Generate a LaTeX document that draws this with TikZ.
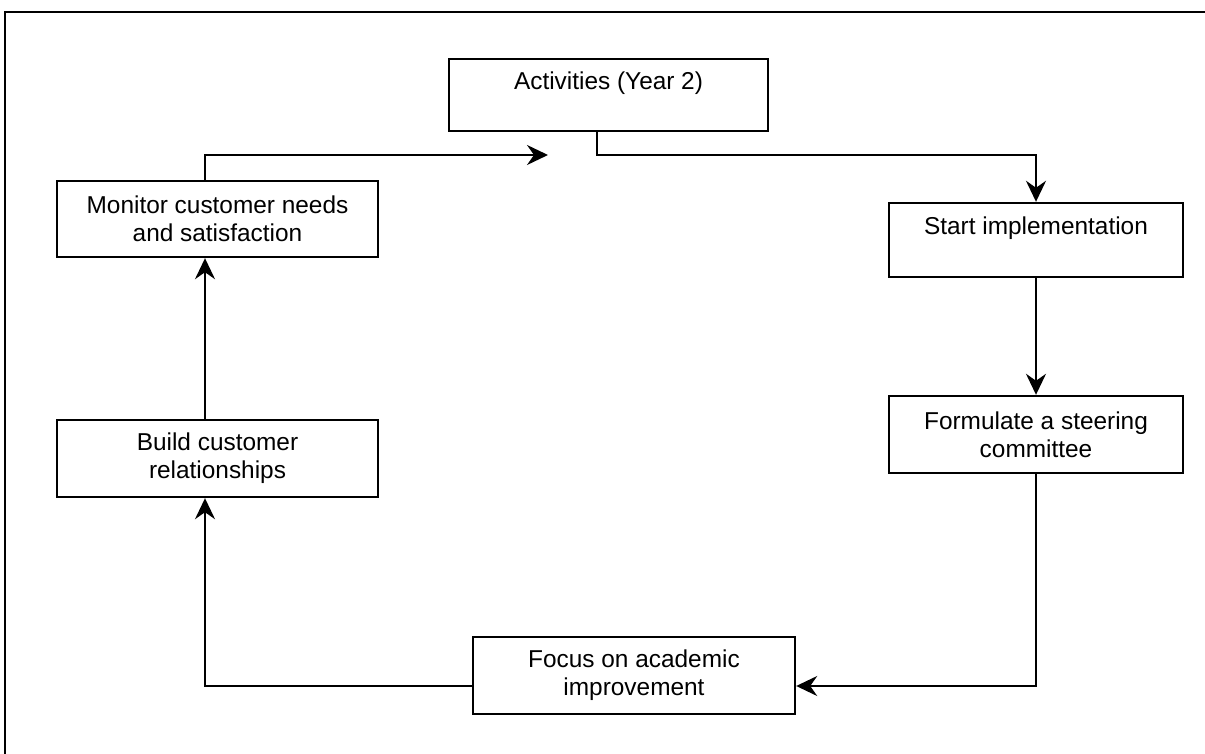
\documentclass[tikz,border=0pt]{standalone}
\usepackage{fontspec}
\setmainfont{Liberation Sans}
\usetikzlibrary{arrows.meta}
\tikzset{
  stage/.style={rectangle,draw=black,line width=1.2pt,fill=white,align=center,inner sep=0pt,
    font=\fontsize{12.2}{14}\selectfont},
  flow/.style={-{Stealth[length=10.5pt,width=10pt,inset=3.5pt]},line width=1pt,black},
  frame/.style={line width=1.2pt,black},
}
\newcommand{\Turns}{%
  \coordinate (tA) at (597,155);  \coordinate (tip) at (548,155);
  \coordinate (tB) at (205,686);
}
\begin{document}
\begin{tikzpicture}[x=0.5pt,y=-0.5pt]
  \useasboundingbox (0,0) rectangle (1205,754);
  \fill[white] (0,0) rectangle (1205,754);
  \draw[frame] (5,754) -- (5,12) -- (1205,12);
  \Turns
  % boxes, clockwise from the top
  \node[stage,minimum width=159.5pt,minimum height=36pt] (act) at (608.5,95) {Activities (Year 2)\\\mbox{}};
  \node[stage,minimum width=147pt,minimum height=37pt] (start) at (1036,240) {Start implementation\\\mbox{}};
  \node[stage,minimum width=147pt,minimum height=38.5pt] (form) at (1036,434.5) {Formulate a steering\\committee};
  \node[stage,minimum width=161pt,minimum height=38.5pt] (focus) at (634,675.5) {Focus on academic\\improvement};
  \node[stage,minimum width=160.5pt,minimum height=38.5pt] (build) at (217.5,458.5) {Build customer\\relationships};
  \node[stage,minimum width=160.5pt,minimum height=38pt] (mon) at (217.5,219) {Monitor customer needs\\and satisfaction};
  % connectors
  \draw[flow] (act.south -| tA) -- (tA) -| (start.north);
  \draw[flow] (start.south) -- (form.north);
  \draw[flow] (form.south) |- (focus.east |- tB);
  \draw[flow] (focus.west |- tB) -- (tB) -- (build.south -| tB);
  \draw[flow] (build.north -| tB) -- (mon.south -| tB);
  \draw[flow] (mon.north -| tB) |- (tip);
\end{tikzpicture}
\end{document}
